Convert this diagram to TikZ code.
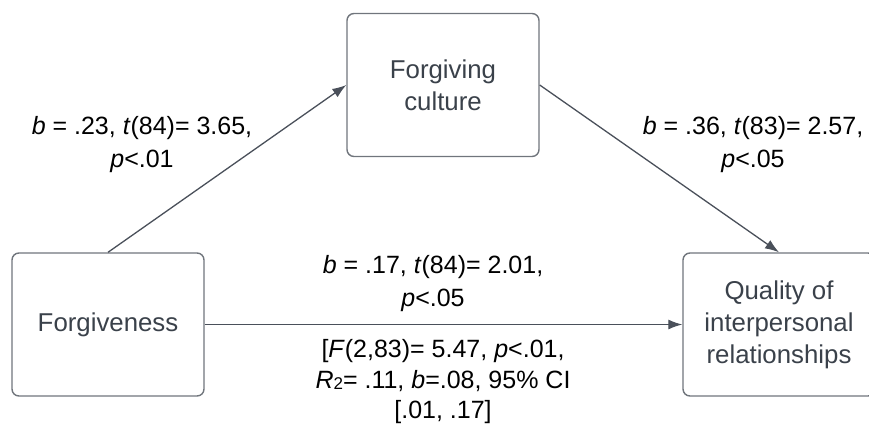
\documentclass[tikz,border=0pt]{standalone}
\usepackage{fontspec}
\setmainfont{Liberation Sans}
\usetikzlibrary{arrows.meta}
\tikzset{>={Latex[length=14pt,width=10pt]}}
\definecolor{boxline}{HTML}{70757C}
\definecolor{boxtext}{HTML}{3A414A}
\definecolor{linkline}{HTML}{4A505A}

\begin{document}
\begin{tikzpicture}[x=1pt,y=-1pt,
    varbox/.style={draw=boxline,line width=1.4pt,rounded corners=7pt,
      minimum width=192pt,minimum height=143pt,inner sep=0pt,
      align=center,text=boxtext,font=\fontsize{25.8}{32}\selectfont},
    statlabel/.style={align=center,text=black,inner sep=0pt,
      font=\fontsize{25}{33}\selectfont},
    link/.style={->,draw=linkline,line width=1.3pt}]
  
  % CANVAS
  \useasboundingbox (0,0) rectangle (869,428);
  \clip (0,0) rectangle (869,428);
  
  % VARIABLES
  \node[varbox] (forgiveness) at (108,324.5) {Forgiveness};
  \node[varbox] (culture)     at (443,85)    {Forgiving\\culture};
  \node[varbox] (quality)     at (779,324.5) {Quality of\\interpersonal\\relationships};
  
  % PATHS
  \draw[link] (forgiveness.north) -- (culture.west);
  \draw[link] (culture.east) -- (quality.north);
  \draw[link] (forgiveness.east) -- (quality.west);
  
  % COEFFICIENTS
  \node[statlabel] (pathA) at (142,145)
    {\textit{b} = .23, \textit{t}(84)= 3.65,\\\textit{p}<.01};
  \node[statlabel] (pathB) at (753,145)
    {\textit{b} = .36, \textit{t}(83)= 2.57,\\\textit{p}<.05};
  \node[statlabel] (pathC) at (433,284)
    {\textit{b} = .17, \textit{t}(84)= 2.01,\\\textit{p}<.05};
  \node[statlabel,font=\fontsize{25}{30.5}\selectfont] (model) at (443,382)
    {{[}\textit{F}(2,83)= 5.47, \textit{p}<.01,\\
     \textit{R}\raisebox{-1pt}{\fontsize{17}{17}\selectfont 2}= .11, \textit{b}=.08, 95\% CI\\
     {[}.01, .17]};
  
\end{tikzpicture}
\end{document}
